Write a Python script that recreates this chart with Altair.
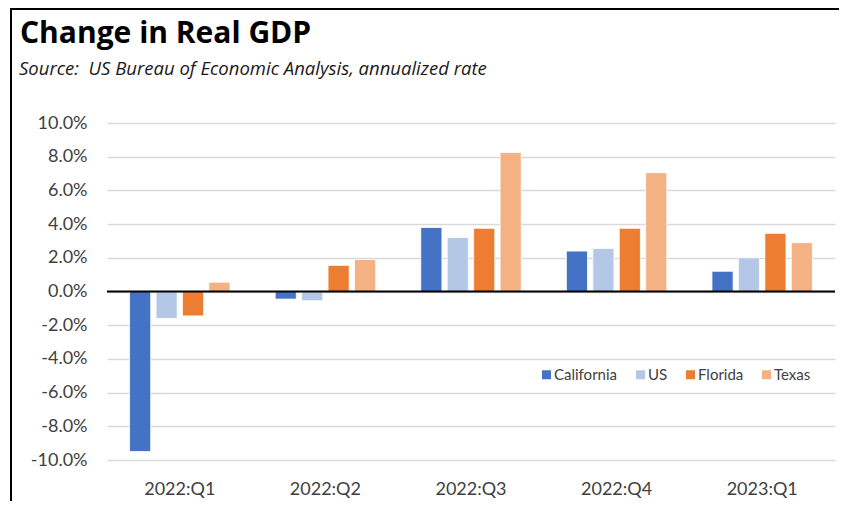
import altair as alt
import pandas as pd

quarters = ["2022:Q1", "2022:Q2", "2022:Q3", "2022:Q4", "2023:Q1"]
states = ["California", "US", "Florida", "Texas"]
california = [-9.5, -0.45, 3.8, 2.4, 1.2]
us = [-1.6, -0.55, 3.2, 2.55, 2.0]
florida = [-1.45, 1.55, 3.75, 3.75, 3.45]
texas = [0.55, 1.9, 8.25, 7.05, 2.9]
colors = ["#4472C4", "#B4C7E7", "#ED7D31", "#F4B183"]
y_ticks = [-10, -8, -6, -4, -2, 0, 2, 4, 6, 8, 10]
title_text = "Change in Real GDP"
subtitle_text = "Source:\u00a0 US Bureau of Economic Analysis, annualized rate"

series = {"California": california, "US": us, "Florida": florida, "Texas": texas}
rows = []
for st in states:
    for q, v in zip(quarters, series[st]):
        rows.append({"quarter": q, "state": st, "value": v})
df = pd.DataFrame(rows)

FONT = "Lato"
TFONT = "Open Sans"
W, H = 728, 337

y_scale = alt.Scale(domain=[-10, 10], nice=False)
y_axis = alt.Axis(values=y_ticks,
                  labelExpr="replace(format(datum.value/100, '.1%'), '\u2212', '-')",
                  labelOverlap=False,
                  domain=False, ticks=False, labelPadding=20,
                  labelFontSize=18, labelFont=FONT, labelColor="#404040",
                  gridColor="#D9D9D9", gridWidth=1.5)

bars = alt.Chart(df).mark_bar(stroke="white", strokeWidth=0.8).encode(
    x=alt.X("quarter:N", sort=quarters, title=None,
            scale=alt.Scale(paddingInner=0.31, paddingOuter=0.155),
            axis=alt.Axis(labelAngle=0, domain=False, ticks=False, labelPadding=20,
                          labelFontSize=18, labelFont=FONT, labelColor="#404040",
                          grid=False)),
    xOffset=alt.XOffset("state:N", sort=states,
                        scale=alt.Scale(paddingInner=0.2, paddingOuter=0)),
    y=alt.Y("value:Q", title=None, scale=y_scale, axis=y_axis),
    color=alt.Color("state:N", sort=states,
                    scale=alt.Scale(domain=states, range=colors),
                    legend=alt.Legend(orient="none", legendX=432, legendY=244,
                                      direction="horizontal", title=None,
                                      symbolType="square", symbolSize=81,
                                      symbolStrokeWidth=0, labelFontSize=15,
                                      labelFont=FONT, labelColor="#404040",
                                      columnPadding=15, labelOffset=0)),
)

zero = alt.Chart(pd.DataFrame({"v": [0]})).mark_rule(color="black", strokeWidth=2).encode(
    y=alt.Y("v:Q", title=None, scale=y_scale, axis=y_axis)
)

one = pd.DataFrame({"a": [0]})
left_line = alt.Chart(one).mark_rule(color="black", strokeWidth=2).encode(
    x=alt.value(-96), y=alt.value(-114), y2=alt.value(380)
)
top_line = alt.Chart(one).mark_rule(color="black", strokeWidth=2).encode(
    x=alt.value(-97), x2=alt.value(735), y=alt.value(-114)
)
title = alt.Chart(one).mark_text(
    align="left", baseline="alphabetic", font=TFONT, fontSize=30,
    fontWeight="bold", color="black"
).encode(x=alt.value(-87), y=alt.value(-80), text=alt.value(title_text))
subtitle = alt.Chart(one).mark_text(
    align="left", baseline="alphabetic", font=TFONT, fontSize=18.5,
    fontStyle="italic", color="#1a1a1a"
).encode(x=alt.value(-88), y=alt.value(-48), text=alt.value(subtitle_text))

chart = alt.layer(bars, zero, left_line, top_line, title, subtitle).properties(
    width=W, height=H,
    autosize=alt.AutoSizeParams(type="none"),
    padding={"left": 99, "top": 115, "right": 4, "bottom": 41},
).configure_view(stroke=None)

chart.save("out.html", embed_options={"renderer": "svg", "actions": False})
